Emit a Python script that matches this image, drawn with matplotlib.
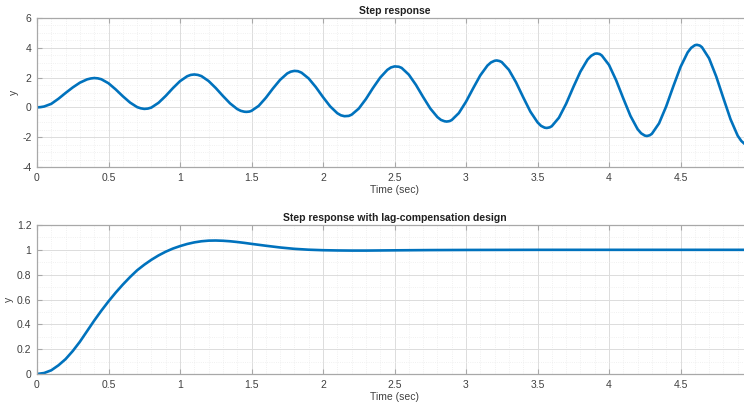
import matplotlib
matplotlib.use("Agg")
import matplotlib.pyplot as plt
from matplotlib.ticker import MultipleLocator, FormatStrFormatter

# values (denser around the peaks and troughs)
t_open = [0.00, 0.025, 0.05, 0.10, 0.15, 0.20, 0.25, 0.30, 0.35, 0.375,
          0.40, 0.425, 0.45, 0.50, 0.55, 0.60, 0.65, 0.70, 0.725, 0.75,
          0.775, 0.80, 0.85, 0.90, 0.95, 1.00, 1.05, 1.075, 1.10, 1.125,
          1.15, 1.20, 1.25, 1.30, 1.35, 1.40, 1.425, 1.45, 1.465, 1.485,
          1.50, 1.55, 1.60, 1.65, 1.70, 1.75, 1.775, 1.80, 1.825, 1.85,
          1.90, 1.95, 2.00, 2.05, 2.10, 2.125, 2.15, 2.18, 2.20, 2.25,
          2.30, 2.35, 2.40, 2.45, 2.475, 2.50, 2.53, 2.55, 2.60, 2.65,
          2.70, 2.75, 2.80, 2.825, 2.85, 2.865, 2.885, 2.90, 2.95, 3.00,
          3.05, 3.10, 3.15, 3.175, 3.20, 3.215, 3.235, 3.25, 3.30, 3.35,
          3.40, 3.45, 3.50, 3.525, 3.55, 3.565, 3.585, 3.60, 3.65, 3.70,
          3.75, 3.80, 3.85, 3.875, 3.90, 3.915, 3.935, 3.95, 4.00, 4.05,
          4.10, 4.15, 4.20, 4.225, 4.25, 4.265, 4.285, 4.30, 4.35, 4.40,
          4.45, 4.50, 4.55, 4.575, 4.60, 4.615, 4.635, 4.65, 4.70, 4.75,
          4.80, 4.85, 4.90, 4.925, 4.95, 4.97, 5.00]
y_open = [0.00, 0.02, 0.06, 0.24, 0.58, 0.97, 1.34, 1.66, 1.88, 1.94,
          1.97, 1.95, 1.89, 1.62, 1.21, 0.75, 0.33, 0.02, -0.06, -0.10,
          -0.08, -0.01, 0.31, 0.77, 1.29, 1.76, 2.09, 2.18, 2.21, 2.18,
          2.10, 1.77, 1.30, 0.77, 0.27, -0.11, -0.23, -0.29, -0.30, -0.28,
          -0.23, 0.10, 0.64, 1.27, 1.85, 2.28, 2.40, 2.45, 2.43, 2.33,
          1.94, 1.36, 0.69, 0.07, -0.39, -0.53, -0.59, -0.57, -0.49, -0.08,
          0.56, 1.31, 2.00, 2.52, 2.68, 2.75, 2.73, 2.65, 2.20, 1.51,
          0.70, -0.07, -0.65, -0.84, -0.93, -0.95, -0.92, -0.85, -0.38, 0.38,
          1.28, 2.15, 2.81, 3.02, 3.13, 3.15, 3.11, 3.04, 2.52, 1.68,
          0.68, -0.28, -1.00, -1.24, -1.36, -1.38, -1.34, -1.26, -0.69, 0.24,
          1.35, 2.40, 3.21, 3.46, 3.60, 3.62, 3.58, 3.48, 2.85, 1.82,
          0.60, -0.57, -1.46, -1.74, -1.89, -1.92, -1.87, -1.77, -1.07, 0.07,
          1.42, 2.71, 3.69, 4.00, 4.17, 4.20, 4.15, 4.04, 3.29, 2.07,
          0.62, -0.80, -1.90, -2.25, -2.47, -2.52, -2.50]

t_lag = [0.00, 0.05, 0.10, 0.15, 0.20, 0.25, 0.30, 0.35, 0.40, 0.45,
         0.50, 0.55, 0.60, 0.65, 0.70, 0.75, 0.80, 0.85, 0.90, 0.95,
         1.00, 1.05, 1.10, 1.15, 1.20, 1.25, 1.30, 1.35, 1.40, 1.45,
         1.50, 1.60, 1.70, 1.80, 1.90, 2.00, 2.10, 2.20, 2.30, 2.40,
         2.50, 2.75, 3.00, 3.50, 4.00, 4.50, 5.00]
y_lag = [0.000, 0.008, 0.030, 0.070, 0.120, 0.185, 0.260, 0.345, 0.430, 0.510,
         0.585, 0.655, 0.720, 0.780, 0.835, 0.880, 0.920, 0.955, 0.985, 1.010,
         1.030, 1.047, 1.060, 1.069, 1.074, 1.075, 1.073, 1.069, 1.063, 1.056,
         1.048, 1.033, 1.019, 1.008, 1.001, 0.997, 0.995, 0.994, 0.994, 0.995,
         0.996, 0.998, 0.999, 1.000, 1.000, 1.000, 1.000]

x_ticks = [0, 0.5, 1, 1.5, 2, 2.5, 3, 3.5, 4, 4.5]
titles = ["Step response", "Step response with lag-compensation design"]
x_label = "Time (sec)"
y_label = "y"

LINE = "#0072BD"
AXC = "#a8a8a8"
TXT = "#404040"

plt.rcParams["font.family"] = ["Liberation Sans Narrow", "Liberation Sans", "DejaVu Sans"]


def style_axes(ax, ylim, ymajor, yminor, title):
    ax.set_xlim(0, 5)
    ax.set_ylim(*ylim)
    ax.set_xticks(x_ticks)
    ax.xaxis.set_minor_locator(MultipleLocator(0.1))
    ax.yaxis.set_major_locator(MultipleLocator(ymajor))
    ax.yaxis.set_minor_locator(MultipleLocator(yminor))
    ax.xaxis.set_major_formatter(FormatStrFormatter("%g"))
    ax.yaxis.set_major_formatter(FormatStrFormatter("%g"))
    ax.grid(which="major", color="#dcdcdc", linewidth=0.7)
    ax.grid(which="minor", color="#ececec", linewidth=0.6, linestyle=":")
    ax.set_axisbelow(True)
    ax.tick_params(which="major", direction="in", length=3.5, width=0.8,
                   top=True, right=True, color=AXC, labelcolor=TXT,
                   labelsize=7.5, pad=4)
    ax.tick_params(which="minor", length=0)
    for s in ax.spines.values():
        s.set_color(AXC)
        s.set_linewidth(0.9)
    ax.set_title(title, fontsize=7.5, fontweight="bold", color="#202020", pad=3)
    ax.set_xlabel(x_label, fontsize=7.5, color=TXT, labelpad=2)
    ax.set_ylabel(y_label, fontsize=7.5, color=TXT, labelpad=2)


fig = plt.figure(figsize=(7.44, 4.09), dpi=100)
# axes run a little past the right edge, as in the cropped reference
ax1 = fig.add_axes([37 / 744, 1 - 167 / 409, 715 / 744, 149 / 409])
ax2 = fig.add_axes([37 / 744, 1 - 374 / 409, 715 / 744, 149 / 409])

ax1.plot(t_open, y_open, color=LINE, linewidth=1.9)
style_axes(ax1, (-4, 6), 2, 0.5, titles[0])

ax2.plot(t_lag, y_lag, color=LINE, linewidth=1.9)
style_axes(ax2, (0, 1.2), 0.2, 0.1, titles[1])

fig.savefig("out.png", dpi=100)
